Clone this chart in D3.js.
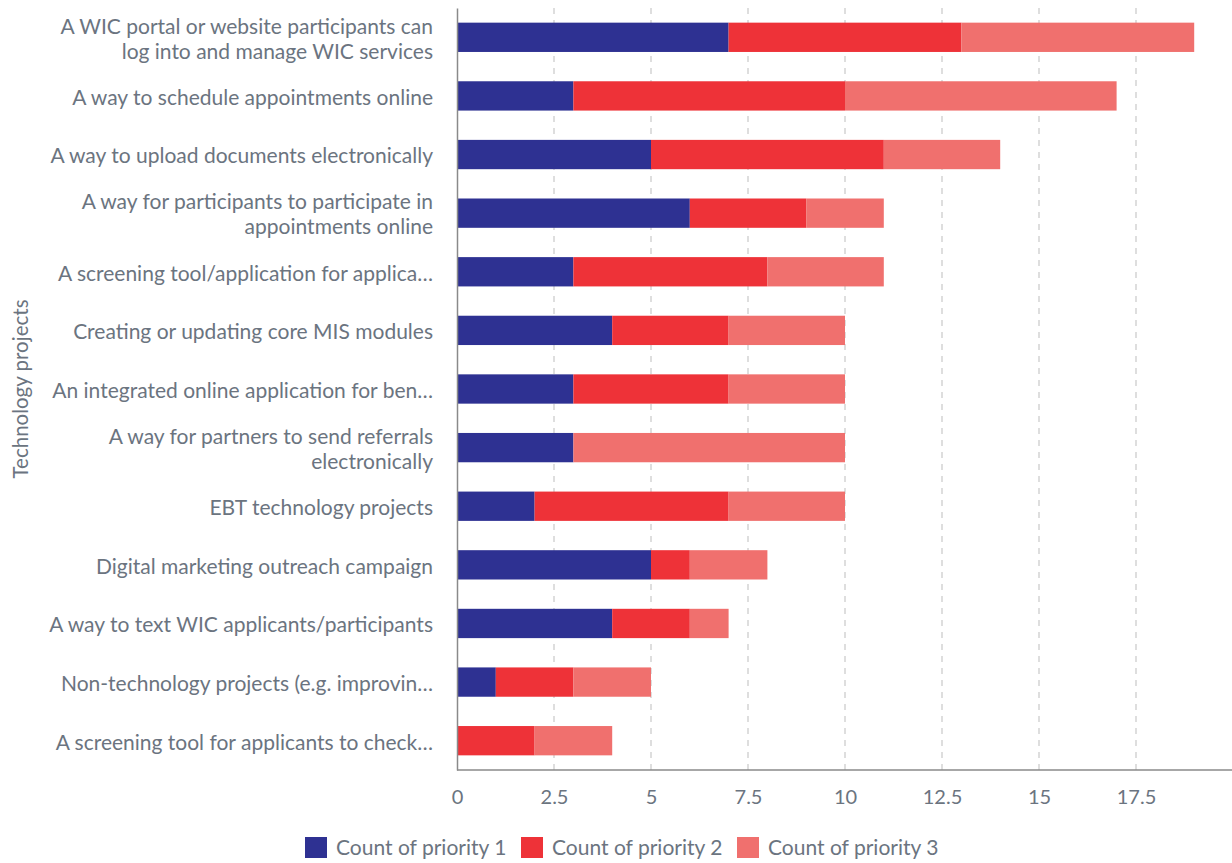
<!DOCTYPE html>
<html>
<head>
<meta charset="utf-8">
<script src="https://cdn.jsdelivr.net/npm/d3@7"></script>
<style>
  html, body { margin: 0; padding: 0; background: #fff; }
  svg { display: block; font-family: Lato, "Open Sans", sans-serif; }
</style>
</head>
<body>
<svg id="chart" width="1232" height="863"></svg>
<script>
// Technology project labels (each entry is one or two lines)
const projects = [
  ["A WIC portal or website participants can", "log into and manage WIC services"],
  ["A way to schedule appointments online"],
  ["A way to upload documents electronically"],
  ["A way for participants to participate in", "appointments online"],
  ["A screening tool/application for applica…"],
  ["Creating or updating core MIS modules"],
  ["An integrated online application for ben…"],
  ["A way for partners to send referrals", "electronically"],
  ["EBT technology projects"],
  ["Digital marketing outreach campaign"],
  ["A way to text WIC applicants/participants"],
  ["Non-technology projects (e.g. improvin…"],
  ["A screening tool for applicants to check…"]
];

const priority1 = [7, 3, 5, 6, 3, 4, 3, 3, 2, 5, 4, 1, 0];
const priority2 = [6, 7, 6, 3, 5, 3, 4, 0, 5, 1, 2, 2, 2];
const priority3 = [6, 7, 3, 2, 3, 3, 3, 7, 3, 2, 1, 2, 2];

const seriesNames = ["Count of priority 1", "Count of priority 2", "Count of priority 3"];
const seriesColors = ["#2e3192", "#ee3238", "#f0706e"];
const xTicks = [0, 2.5, 5, 7.5, 10, 12.5, 15, 17.5];

const rows = projects.map((p, i) => ({
  key: i, label: p, p1: priority1[i], p2: priority2[i], p3: priority3[i]
}));

const svg = d3.select("#chart");
const plotLeft = 457, plotRight = 1233, plotTop = 8, plotBottom = 770;

const x = d3.scaleLinear().domain([0, 20]).range([plotLeft, plotRight]);
const y = d3.scaleBand().domain(rows.map(d => d.key)).range([plotTop, plotBottom])
  .paddingInner(0.5).paddingOuter(0.25);

const textColor = "#6b7480";

// dashed vertical gridlines
svg.append("g").selectAll("line").data(xTicks.filter(t => t > 0)).join("line")
  .attr("x1", d => x(d)).attr("x2", d => x(d))
  .attr("y1", plotTop).attr("y2", plotBottom)
  .attr("stroke", "#c8c8c8").attr("stroke-width", 1.2)
  .attr("stroke-dasharray", "6,6");

// stacked bars
const stack = d3.stack().keys(["p1", "p2", "p3"]);
const layers = stack(rows);
svg.append("g").selectAll("g").data(layers).join("g")
  .attr("fill", (d, i) => seriesColors[i])
  .selectAll("rect").data(d => d).join("rect")
  .attr("x", d => x(d[0]))
  .attr("width", d => x(d[1]) - x(d[0]))
  .attr("y", d => y(d.data.key))
  .attr("height", y.bandwidth());

// bottom axis
const xAxis = svg.append("g").attr("transform", `translate(0,${plotBottom})`)
  .call(d3.axisBottom(x).tickValues(xTicks).tickSize(0).tickPadding(20)
    .tickFormat(d => String(d)));
xAxis.select(".domain").attr("stroke", "#8a8a8a").attr("stroke-width", 1.5)
  .attr("d", `M${plotLeft},0H1232`);
xAxis.selectAll("text").attr("fill", textColor).attr("font-size", 20)
  .attr("font-family", "Lato, sans-serif");

// left axis
const yAxis = svg.append("g").attr("transform", `translate(${plotLeft},0)`)
  .call(d3.axisLeft(y).tickSize(0).tickFormat(""));
yAxis.select(".domain").attr("stroke", "#8a8a8a").attr("stroke-width", 1.5);

// category labels, wrapped
const labelG = svg.append("g");
rows.forEach(r => {
  const cy = y(r.key) + y.bandwidth() / 2;
  const n = r.label.length;
  const lh = 25;
  const t = labelG.append("text")
    .attr("x", plotLeft - 24)
    .attr("text-anchor", "end")
    .attr("fill", textColor)
    .attr("font-size", 21);
  r.label.forEach((line, j) => {
    t.append("tspan").attr("x", plotLeft - 24)
      .attr("y", cy + (j - (n - 1) / 2) * lh)
      .attr("dy", "0.42em")
      .text(line);
  });
});

// axis title
svg.append("text")
  .attr("transform", `translate(28,${(plotTop + plotBottom) / 2}) rotate(-90)`)
  .attr("text-anchor", "middle")
  .attr("fill", textColor)
  .attr("font-size", 20.5)
  .text("Technology projects");

// legend
const legendX = [305, 521, 737];
const legend = svg.append("g").selectAll("g").data(seriesNames).join("g")
  .attr("transform", (d, i) => `translate(${legendX[i]},837)`);
legend.append("rect").attr("width", 22).attr("height", 21)
  .attr("fill", (d, i) => seriesColors[i]);
legend.append("text").attr("x", 31).attr("y", 11).attr("dy", "0.35em")
  .attr("fill", textColor).attr("font-size", 21).text(d => d);
</script>
</body>
</html>
